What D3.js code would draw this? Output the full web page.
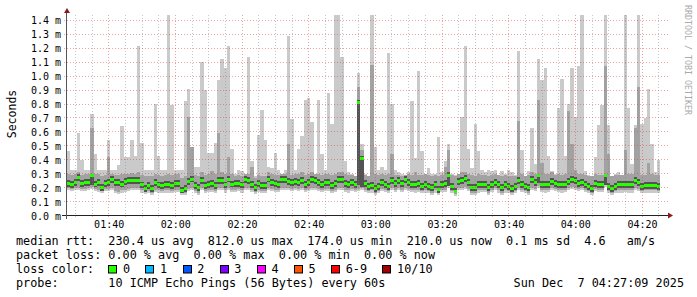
<!DOCTYPE html>
<meta charset="utf-8">
<script src="https://cdn.jsdelivr.net/npm/d3@7"></script>
<style>
  body { margin: 0; background: #fff; }
  text { font-family: "DejaVu Sans Mono", monospace; }
</style>
<div id="chart"></div>
<script>

// round trip times in microseconds, one column per minute starting 01:27:30
// median of the 10 pings
var median = [
  230,220,240,270,230,236,236,286,226,236, 202,231,236,255,238,238,226,243,248,250, 250,250,219,195,212,195,236,219,214,221, 221,214,231,231,183,195,243,262,214,200, 248,212,224,231,214,
  250,250,219,262,226,231,231,219,255,250, 224,202,231,212,212,262,240,231,224,255, 255,245,240,245,236,250,221,240,260,250, 240,224,240,240,212,231,255,255,231,224, 236,224,812,410,
  230,210,215,195,210,235,220,210,250,230, 250,230,260,240,225,225,230,210,220,210, 200,220,190,225,230,285,210,174,245,250, 265,235,200,200,220,225,225,200,225,240, 220,200,220,210,
  195,210,250,225,210,200,255,235,285,220, 220,225,245,230,225,220,225,243,260,250, 230,236,225,210,195,230,225,225,285,210, 195,210,220,220,225,220,220,250,236,210, 215,215,215,215,210
];
// fastest ping (bottom of the light smoke)
var low = [
  180,175,180,185,175,175,180,190,175,170, 160,175,175,180,160,155,165,170,175,180, 180,180,165,155,160,150,170,165,160,165, 165,160,170,170,145,150,175,185,160,150, 180,160,170,170,160,
  180,185,165,185,170,170,175,165,185,180, 170,155,170,160,160,185,175,170,170,180, 185,180,175,180,175,180,170,175,185,180, 175,170,175,175,160,170,180,180,170,165, 175,170,175,180,
  170,160,165,150,160,175,170,160,180,170, 180,170,185,175,170,165,170,160,165,160, 150,165,145,170,170,200,160,140,180,185, 190,175,150,150,165,170,170,150,170,180, 165,150,165,160,
  150,160,180,170,160,150,185,175,200,170, 165,170,180,175,170,165,170,180,190,185, 175,180,170,160,150,175,170,170,205,160, 150,160,165,165,170,165,165,180,175,160, 165,165,165,165,160
];
// bottom of the middle smoke
var low2 = [
  195,190,195,200,190,190,195,205,190,185, 175,190,190,195,175,170,180,185,190,195, 195,195,180,170,175,165,185,180,175,180, 180,175,185,185,160,165,190,200,175,165, 195,175,185,185,175,
  195,200,180,200,185,185,190,180,200,195, 185,170,185,175,175,200,190,185,185,195, 200,195,190,195,190,195,185,190,200,195, 190,185,190,190,175,185,195,195,185,180, 190,185,190,195,
  185,175,180,165,175,190,185,175,195,185, 195,185,200,190,185,180,185,175,180,175, 165,180,160,185,185,215,175,155,195,200, 205,190,165,165,180,185,185,165,185,195, 180,165,180,175,
  165,175,195,185,175,165,200,190,215,185, 180,185,195,190,185,180,185,195,205,200, 190,195,185,175,165,190,185,185,220,175, 165,175,180,180,185,180,180,195,190,175, 180,180,180,180,175
];
// dark smoke around the median
var darkLow = [
  205,195,215,245,205,211,211,220,201,211, 177,206,211,230,213,213,201,218,223,225, 225,225,194,170,187,170,211,194,189,196, 196,189,206,206,162,170,218,237,189,175, 223,187,199,206,189,
  225,225,194,237,201,206,206,194,230,225, 199,177,206,187,187,237,215,206,199,230, 230,220,215,220,211,225,196,215,235,225, 215,199,215,215,187,206,230,230,206,199, 211,199,220,205,
  205,185,190,170,185,210,195,185,225,205, 225,205,235,215,200,200,205,185,195,185, 175,195,165,200,205,215,185,158,220,225, 240,210,175,175,195,200,200,175,200,215, 195,175,195,185,
  170,185,225,200,185,175,230,210,235,195, 195,200,220,205,200,195,200,218,235,225, 205,211,200,185,170,205,200,200,220,185, 170,185,195,195,200,195,195,225,211,185, 190,190,190,190,185
];
var darkHigh = [
  255,245,265,295,255,261,261,300,251,261, 227,256,261,280,263,263,251,268,273,275, 275,275,244,220,237,220,261,244,239,246, 246,239,256,256,208,220,268,287,239,225, 273,237,249,256,239,
  275,275,244,287,251,256,256,244,280,275, 249,227,256,237,237,287,265,256,249,280, 280,270,265,270,261,275,246,265,285,275, 265,249,265,265,237,256,280,280,256,249, 261,249,830,430,
  255,235,240,220,235,260,245,235,275,255, 275,255,285,265,250,250,255,235,245,235, 225,245,215,250,255,310,235,200,270,275, 290,260,225,225,245,250,250,225,250,265, 245,225,245,235,
  220,235,275,250,235,225,280,260,300,245, 245,250,270,255,250,245,250,268,285,275, 255,261,250,235,220,255,250,250,300,235, 220,235,245,245,250,245,245,275,261,235, 240,240,240,240,235
];
// top of the middle smoke
var mid = [
  300,290,300,310,290,295,300,630,295,300, 280,290,420,300,290,290,300,295,300,305, 300,310,290,280,285,280,300,290,285,290, 300,290,295,295,270,280,710,490,290,280, 310,290,300,320,300,
  590,310,300,420,300,280,290,280,300,300, 350,270,290,280,280,310,300,290,290,300, 300,510,290,300,300,310,290,300,310,300, 300,290,300,300,290,300,310,310,300,290, 290,285,920,470,
  290,280,1080,300,290,300,290,300,440,290, 290,280,290,300,290,310,290,290,300,290, 280,290,280,290,350,470,290,280,300,310, 310,300,290,280,300,290,290,280,290,300, 290,280,290,285,
  285,280,680,300,280,290,310,300,830,380, 300,300,310,290,300,290,300,750,510,330, 300,300,290,280,280,300,290,290,1070,440, 280,290,290,290,470,300,300,630,920,290, 290,380,300,290,290
];
// slowest ping (top of the light smoke)
var high = [
  460,330,330,590,400,330,330,730,440,330, 330,330,540,330,330,360,640,420,420,540, 430,1220,520,330,330,330,800,430,330,330, 1440,790,330,330,330,820,910,420,350,350, 1100,900,450,450,520,
  970,1120,1060,1220,480,300,330,320,300,1140, 390,280,580,760,540,350,340,450,330,300, 330,1290,690,330,480,570,830,840,670,300, 830,440,330,880,660,1440,1440,1140,390,310, 300,280,1020,510,
  300,270,1440,490,330,350,330,1170,800,330, 310,300,280,310,820,410,1040,460,300,340, 300,300,560,310,390,510,300,290,300,710, 1220,480,340,660,460,330,310,330,320,330, 280,320,300,330,
  310,290,1180,470,280,320,630,370,1120,970, 1060,430,320,300,770,980,430,800,1060,710, 1070,1440,320,290,280,420,650,790,1440,650, 280,300,310,280,1440,770,370,650,1440,660, 700,910,510,310,400
];

var yTicks = [0, 0.1, 0.2, 0.3, 0.4, 0.5, 0.6, 0.7, 0.8, 0.9, 1.0, 1.1, 1.2, 1.3, 1.4];

var lossLabels = ["0", "1", "2", "3", "4", "5", "6-9", "10/10"];
var lossColors = ["#26ff00", "#00b8ff", "#0059ff", "#7e00ff", "#ff00ff", "#ff5500", "#ff0000", "#a10000"];

var legendLines = [
  "median rtt:  230.4 us avg  812.0 us max  174.0 us min  210.0 us now  0.1 ms sd  4.6   am/s",
  "packet loss: 0.00 % avg  0.00 % max  0.00 % min  0.00 % now",
  "loss color:",
  "probe:       10 ICMP Echo Pings (56 Bytes) every 60s"
];
var stamp = "Sun Dec  7 04:27:09 2025";

var start = new Date(2025, 11, 7, 1, 27, 30);

var svg = d3.select("#chart")
  .append("svg")
    .attr("width", 697)
    .attr("height", 297)
    .style("display", "block")
    .style("background", "#fff");

var x = d3.scaleTime()
  .domain([start, d3.timeMinute.offset(start, 180)])
  .range([67, 667]);

var y = d3.scaleLinear()
  .domain([0, 1.4357])
  .range([215.5, 15.5]);

var rows = median.map(function(m, i) {
  return {
    t0: d3.timeMinute.offset(start, i),
    t1: d3.timeMinute.offset(start, i + 1),
    med: m, low: low[i], low2: low2[i], darkLow: darkLow[i], darkHigh: darkHigh[i],
    mid: mid[i], high: high[i]
  };
});

svg.append("clipPath").attr("id", "clip")
  .append("rect").attr("x", 67).attr("y", 15).attr("width", 601).attr("height", 200.5);

var plot = svg.append("g")
  .attr("clip-path", "url(#clip)")
  .attr("shape-rendering", "crispEdges");

// smoke bands, lightest first
function band(lo, hi, color) {
  plot.append("g").selectAll("rect")
    .data(rows)
    .enter()
    .append("rect")
      .attr("x", function(d) { return x(d.t0); })
      .attr("width", function(d) { return x(d.t1) - x(d.t0); })
      .attr("y", function(d) { return y(d[hi] / 1000); })
      .attr("height", function(d) { return y(d[lo] / 1000) - y(d[hi] / 1000); })
      .attr("fill", color);
}
band("low", "high", "#cacaca");
band("low2", "mid", "#a2a2a2");
band("darkLow", "darkHigh", "#545454");

// median, coloured by loss (all 0 here)
plot.append("g").selectAll("rect")
  .data(rows)
  .enter()
  .append("rect")
    .attr("x", function(d) { return x(d.t0); })
    .attr("width", function(d) { return x(d.t1) - x(d.t0); })
    .attr("y", function(d) { return y(d.med / 1000) - 1.5; })
    .attr("height", 3)
    .attr("fill", lossColors[0]);

// grid on top
var grid = svg.append("g");
var minorTimes = x.ticks(d3.timeMinute.every(5));
var majorTimes = x.ticks(d3.timeMinute.every(20));

grid.selectAll(".minor")
  .data(minorTimes.filter(function(t) { return t.getMinutes() % 20 != 0; }))
  .enter().append("line")
    .attr("x1", function(d) { return Math.floor(x(d)) + 0.5; })
    .attr("x2", function(d) { return Math.floor(x(d)) + 0.5; })
    .attr("y1", 15).attr("y2", 218)
    .attr("stroke", "rgba(130,130,130,0.45)")
    .attr("stroke-dasharray", "1,2");

grid.selectAll(".major")
  .data(majorTimes)
  .enter().append("line")
    .attr("x1", function(d) { return Math.floor(x(d)) + 0.5; })
    .attr("x2", function(d) { return Math.floor(x(d)) + 0.5; })
    .attr("y1", 15).attr("y2", 219)
    .attr("stroke", "rgba(215,50,50,0.45)")
    .attr("stroke-dasharray", "1,2");

grid.selectAll(".hgrid")
  .data(yTicks.slice(1))
  .enter().append("line")
    .attr("x1", 64).attr("x2", 668)
    .attr("y1", function(d) { return Math.floor(y(d)) + 0.5; })
    .attr("y2", function(d) { return Math.floor(y(d)) + 0.5; })
    .attr("stroke", "rgba(215,50,50,0.45)")
    .attr("stroke-dasharray", "1,2");

// axes
svg.append("line")
  .attr("x1", 62).attr("x2", 668).attr("y1", 215.5).attr("y2", 215.5)
  .attr("stroke", "#222");
svg.append("line")
  .attr("x1", 66.5).attr("x2", 66.5).attr("y1", 219).attr("y2", 12)
  .attr("stroke", "#555");
svg.append("path")
  .attr("d", "M64,13L70,13L67,8Z")
  .attr("fill", "#8b1a1a");
svg.append("path")
  .attr("d", "M668,212.5L668,218.5L673,215.5Z")
  .attr("fill", "#8b1a1a");

// Y labels
var yAxis = svg.append("g")
  .attr("transform", "translate(61,0)")
  .call(d3.axisLeft(y).tickValues(yTicks).tickSize(0).tickPadding(0)
    .tickFormat(function(d) { return d3.format(".1f")(d) + " m"; }));
yAxis.select(".domain").remove();
yAxis.selectAll("text")
  .attr("font-family", "DejaVu Sans Mono")
  .attr("font-size", 10)
  .attr("fill", "#000")
  .attr("dy", "0.35em");

// X labels
var xAxis = svg.append("g")
  .attr("transform", "translate(0,215)")
  .call(d3.axisBottom(x).ticks(d3.timeMinute.every(20)).tickSize(0)
    .tickFormat(d3.timeFormat("%H:%M")));
xAxis.select(".domain").remove();
xAxis.selectAll("text")
  .attr("font-family", "DejaVu Sans Mono")
  .attr("font-size", 10)
  .attr("fill", "#000")
  .attr("y", 13)
  .attr("dy", 0);

// Y axis title
svg.append("text")
  .attr("transform", "translate(15.5,114) rotate(-90)")
  .attr("text-anchor", "middle")
  .attr("font-size", 11.5)
  .text("Seconds");

// watermark
svg.append("text")
  .attr("transform", "translate(685,5) rotate(90)")
  .attr("font-size", 8.3)
  .attr("fill", "#aaaaaa")
  .text("RRDTOOL / TOBI OETIKER");

// legend
svg.selectAll(".legend")
  .data(legendLines)
  .enter().append("text")
    .attr("x", 16)
    .attr("y", function(d, i) { return 245 + i * 14; })
    .attr("font-size", 11.8)
    .style("white-space", "pre")
    .text(function(d) { return d; });

svg.append("text")
  .attr("x", 684).attr("y", 287)
  .attr("text-anchor", "end")
  .attr("font-size", 11.8)
  .style("white-space", "pre")
  .text(stamp);

var bx = 108.3;
lossLabels.forEach(function(lab, i) {
  svg.append("rect")
    .attr("x", Math.round(bx) + 0.5).attr("y", 265.5)
    .attr("width", 8).attr("height", 7.5)
    .attr("fill", lossColors[i])
    .attr("stroke", "#000");
  svg.append("text")
    .attr("x", bx + 14.7).attr("y", 273)
    .attr("font-size", 11.8)
    .text(lab);
  bx += 30 + 7.12 * lab.length;
});

</script>
